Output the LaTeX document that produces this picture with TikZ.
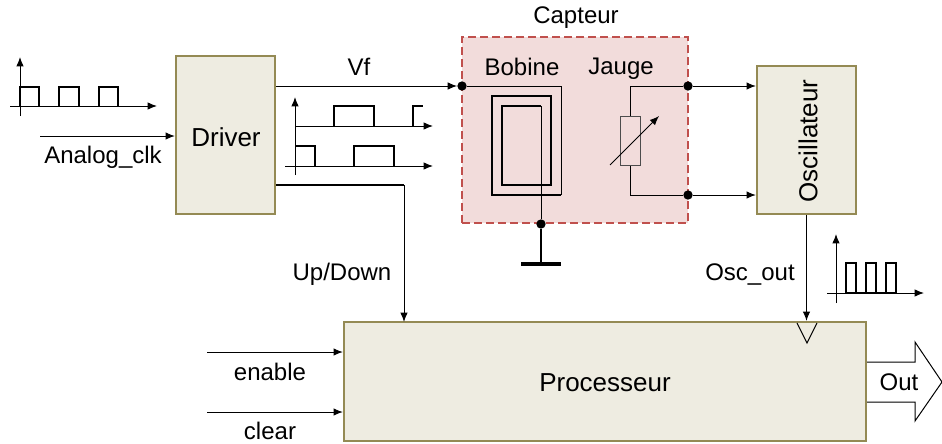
\documentclass[tikz,border=0pt]{standalone}
\usepackage{fontspec}
\setmainfont{Liberation Sans}
\usetikzlibrary{arrows.meta, positioning, calc}
\definecolor{blockfill}{RGB}{238, 236, 225}
\definecolor{blockline}{RGB}{148, 138, 84}
\definecolor{sensorfill}{RGB}{242, 220, 219}
\definecolor{sensorline}{RGB}{192, 80, 77}

\begin{document}
\begin{tikzpicture}[
            x=0.75pt, y=-0.75pt,
            block/.style={draw=blockline, fill=blockfill, line width=1.7pt, inner sep=0pt},
            sensor/.style={draw=sensorline, fill=sensorfill, line width=1.7pt, dash pattern=on 6pt off 3pt, inner sep=0pt, minimum width=169.5pt, minimum height=139.5pt},
            txt/.style={font=\fontsize{18}{20}\selectfont, inner sep=0pt},
            bigtxt/.style={font=\fontsize{19.5}{22}\selectfont, inner sep=0pt},
            dot/.style={circle, fill=black, inner sep=0pt, minimum size=7pt},
            wire/.style={line width=0.75pt},
            coil/.style={line width=1.1pt},
            arrow/.style={-{Latex[length=7pt, width=5.6pt]}, line width=0.75pt},
            pulse/.style={line width=1.1pt}
        ]
            \useasboundingbox (0,0) rectangle (942,443);

            % blocks
            \node[sensor] (capteur) at (575,130) {};
            \node[block, minimum width=74.25pt, minimum height=118.5pt] (driver) at (225.5,135) {};
            \node[block, minimum width=74.25pt, minimum height=111pt] (osc) at (806.5,140) {};

            % output arrow goes under the processor block
            \draw[wire, fill=white] (850,362) -- (915,362) -- (915,342) -- (942,382) -- (915,421) -- (915,402) -- (850,402) -- cycle;
            \node[block, minimum width=391.5pt, minimum height=89.25pt] (proc) at (605,381.5) {};

            % labels
            \node[bigtxt] at (226,137) {Driver};
            \node[bigtxt, rotate=90] at (808,141) {Oscillateur};
            \node[bigtxt] at (605,383) {Processeur};
            \node[txt] at (576,18) {Capteur};
            \node[txt] at (522,67) {Bobine};
            \node[txt] at (621,69) {Jauge};
            \node[txt] at (359,67) {Vf};
            \node[txt] at (103,157) {Analog\_clk};
            \node[txt] at (342,274) {Up/Down};
            \node[txt] at (750,275) {Osc\_out};
            \node[txt] at (270,372) {enable};
            \node[txt] at (270,431) {clear};
            \node[txt] at (899,382) {Out};

            % junctions
            \node[dot] (vf) at (462,86) {};
            \node[dot] (gnd) at (541,224) {};
            \node[dot] (jtop) at (688,86) {};
            \node[dot] (jbot) at (688,195) {};
            \node[draw=black!70, fill=sensorfill, line width=0.75pt, minimum width=15pt, minimum height=36.75pt, inner sep=0pt] (gauge) at (630,140.5) {};
            \coordinate (clkin) at (40,136);
            \coordinate (enin) at (207,352);
            \coordinate (clrin) at (207,412);
            \coordinate (ground) at (541,264);

            % connectors
            \draw[arrow] (clkin) -- (clkin -| driver.west);
            \draw[arrow] (driver.east |- vf) -- (vf);
            \draw[arrow] (jtop) -- (jtop -| osc.west);
            \draw[arrow] (jbot) -- (jbot -| osc.west);
            \draw[arrow] (osc.south) -- (osc.south |- proc.north);
            \draw[arrow] (enin) -- (enin -| proc.west);
            \draw[arrow] (clrin) -- (clrin -| proc.west);
            \draw[arrow, line width=0.75pt] (404,185) -- (404,322);
            \draw[line width=1.5pt] (driver.east |- 0,185) -- (404.4,185);

            % coil and ground
            \draw[wire] (vf) -- (561,86) -- (561,195);
            \draw[coil] (561,195) -- (492,195) -- (492,96) -- (551,96) -- (551,185) -- (502,185) -- (502,106) -- (541,106);
            \draw[wire] (541,106) -- (gnd);
            \draw[line width=1.5pt] (gnd) -- (ground);
            \draw[line width=3pt] (521,264) -- (561,264);

            % gauge
            \draw[wire] (jtop) -- (630,86) -- (gauge.north);
            \draw[wire] (jbot) -- (630,195) -- (gauge.south);
            \draw[arrow] (610,165) -- (659,116);

            % clock input on the processor
            \draw[wire] (797,323) -- (807,343) -- (817,323);

            % clk waveform
            \draw[arrow] (20,116) -- (20,57);
            \draw[arrow] (10,106) -- (157,106);
            \foreach \xa/\xb in {20/39, 59/79, 99/118}
                \draw[pulse] (\xa,106) -- (\xa,87) -- (\xb,87) -- (\xb,106);

            % vf waveforms
            \draw[arrow] (295,175) -- (295,97);
            \draw[arrow] (295,126) -- (433,126);
            \draw[arrow] (285,166) -- (433,166);
            \draw[pulse] (334,126) -- (334,106) -- (374,106) -- (374,126);
            \draw[pulse] (413,126) -- (413,106) -- (423,106);
            \draw[pulse] (295,146) -- (315,146) -- (315,166);
            \draw[pulse] (354,166) -- (354,146) -- (394,146) -- (394,166);

            % oscillator waveform
            \draw[arrow] (836,303) -- (836,234);
            \draw[arrow] (827,293) -- (924,293);
            \draw[pulse] (846,293) -- (896,293);
            \foreach \xa/\xb in {846/856, 866/876, 886/896}
                \draw[pulse] (\xa,293) -- (\xa,263) -- (\xb,263) -- (\xb,293);
        \end{tikzpicture}
\end{document}
